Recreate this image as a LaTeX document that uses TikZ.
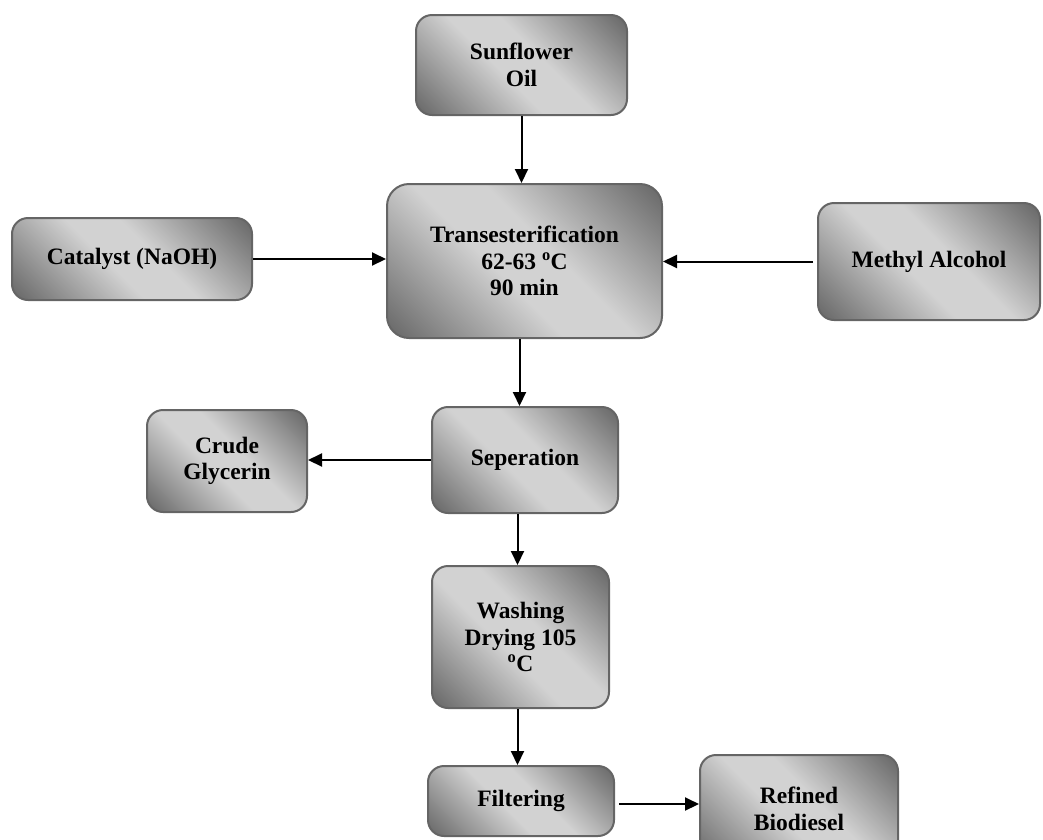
\documentclass[tikz,border=0pt]{standalone}
\usepackage{fontspec}
\setmainfont{Liberation Serif}
\usepackage{tikz}
\usetikzlibrary{arrows.meta,positioning,calc}
\definecolor{boxdark}{HTML}{6A6A6A}
\definecolor{boxlight}{HTML}{D2D2D2}
\definecolor{boxline}{HTML}{656565}
\pgfdeclarehorizontalshading{stageshade}{100bp}{color(0bp)=(boxdark); color(16bp)=(boxdark);
  color(44bp)=(boxlight); color(56bp)=(boxlight); color(84bp)=(boxdark); color(100bp)=(boxdark)}
\tikzset{
stage/.style={draw=boxline,line width=2pt,rounded corners=16pt,align=center,
  shading=stageshade,shading angle=45,
  font=\fontsize{23.5}{26.5}\selectfont\bfseries,inner sep=2pt},
flow/.style={-{Triangle[length=14pt,width=13pt]},line width=2pt,black}
}
\begin{document}
\begin{tikzpicture}[x=1pt,y=-1pt]
      \useasboundingbox (0,0) rectangle (1043,839);
      \clip (0,0) rectangle (1043,839);
      \node[stage,minimum width=211pt,minimum height=100pt] (oil) at (521.5,65) {Sunflower\\Oil};
      \node[stage,minimum width=275pt,minimum height=154pt,rounded corners=22pt] (trans) at (524.5,261)
         {Transesterification\\62-63 \textsuperscript{o}C\\90 min};
      \node[stage,minimum width=240pt,minimum height=82pt] (cat) at (132,259) {Catalyst (NaOH)};
      \node[stage,minimum width=222pt,minimum height=117pt] (meth) at (929,261.5) {Methyl Alcohol};
      \node[stage,minimum width=186pt,minimum height=106pt] (sep) at (525,460) {Seperation};
      \node[stage,minimum width=160pt,minimum height=102pt] (gly) at (227,461) {Crude\\Glycerin};
      \node[stage,minimum width=177pt,minimum height=142pt] (wash) at (520.5,637) {Washing\\Drying 105\\\textsuperscript{o}C};
      \node[stage,minimum width=186pt,minimum height=70pt] (filt) at (521,801) {Filtering};
      \node[stage,minimum width=198pt,minimum height=108pt] (bio) at (799,809) {Refined\\Biodiesel};
         \draw[flow] (oil.south) -- (oil.south |- trans.north);
         \draw[flow] (cat.east) -- (cat.east -| trans.west);
         \draw[flow] ([xshift=-4pt]meth.west) -- (meth.west -| trans.east);
         \draw[flow] ([xshift=-5pt]trans.south) -- ([xshift=-5pt]trans.south |- sep.north);
         \draw[flow] (sep.west) -- (sep.west -| gly.east);
         \draw[flow] ([xshift=-3pt]wash.north |- sep.south) -- ([xshift=-3pt]wash.north);
         \draw[flow] ([xshift=-3pt]wash.south) -- ([xshift=-3pt]wash.south |- filt.north);
         \draw[flow] ([xshift=4pt,yshift=-3pt]filt.east) -- ([yshift=-3pt]filt.east -| bio.west);
\end{tikzpicture}
\end{document}
